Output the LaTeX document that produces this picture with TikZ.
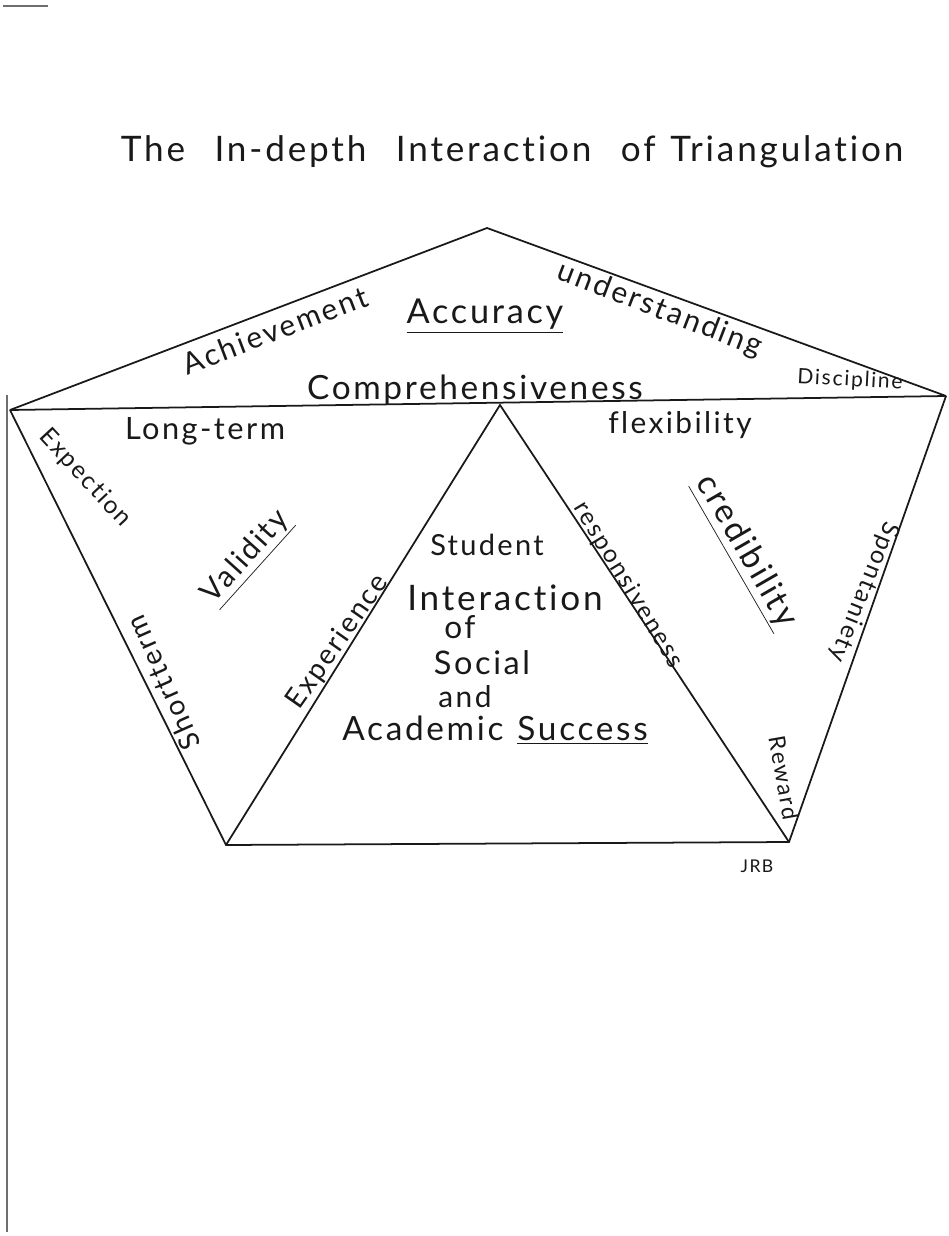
\documentclass[tikz,border=0pt]{standalone}
\usepackage{fontspec}
\setmainfont{Lato}[LetterSpace=8, WordSpace=1.25, Ligatures=NoCommon]
\usetikzlibrary{positioning, calc}
\definecolor{PenInk}{RGB}{25, 25, 25}
\definecolor{ScanGray}{RGB}{110, 110, 110}
\newcommand{\pen}[1]{\fontsize{#1}{1.2\dimexpr#1pt\relax}\selectfont}

\begin{document}
\begin{tikzpicture}[
  x=0.02cm, y=-0.02cm,
  every node/.style={text=PenInk},
  edge/.style={draw=PenInk, line width=1pt},
  word/.style={inner sep=1pt, font=\pen{17}},
  small/.style={inner sep=1pt, font=\pen{13}},
  core/.style={inner sep=1pt, font=\pen{19}}
]
  \useasboundingbox (0,0) rectangle (948,1236);

  %% scan edge
  \draw[ScanGray, line width=0.8pt] (7,395) -- (7,1232);
  \draw[ScanGray, line width=0.8pt] (3,6) -- (48,6);

  %% Title
  \node[font=\pen{20}] (title) at (512,152)
    {The\ \ In-depth\ \ Interaction\ \ of\ Triangulation};

  %% Corners of the pentagon and the triangle
  \coordinate (top)   at (487,228);
  \coordinate (left)  at (10,410);
  \coordinate (right) at (946,396);
  \coordinate (apex)  at (500,405);
  \coordinate (bl)    at (226,845);
  \coordinate (br)    at (789,842);

  %% Outline
  \draw[edge] (left) -- (top) -- (right);
  \draw[edge] (left) -- (right);
  \draw[edge] (left) -- (bl) -- (br) -- (right);
  \draw[edge] (bl) -- (apex) -- (br);

  %% Top part
  \node[word, rotate=20.9]  (achieve)  at (275,330) {Achievement};
  \node[core, font=\pen{19.5}] (accuracy) at (485,316) {\underline{Accuracy}};
  \node[word, rotate=-21]   (underst)  at (660,310) {understanding};
  \node[small, font=\pen{12}, rotate=-3] (discip) at (850,380) {Discipline};
  \node[core]               (compre)   at (475,390) {Comprehensiveness};

  %% Left part
  \node[word, font=\pen{17.5}] (longterm) at (205,431) {Long-term};
  \node[small, font=\pen{14}, rotate=-47] (expect) at (85,478) {Expection};
  \node[word, rotate=48]    (validity) at (247,558) {\underline{Validity}};
  \node[small, font=\pen{16}, rotate=114] (short) at (163,683) {Shortterm};
  \node[word, font=\pen{16}, rotate=55] (exper) at (338,642) {Experience};

  %% Right part
  \node[word]               (flex)     at (680,425) {flexibility};
  \node[small, font=\pen{14}, rotate=-58.8] (respons) at (628,585) {responsiveness};
  \node[word, font=\pen{19}, rotate=-60] (cred) at (745,552) {\underline{credibility}};
  \node[small, font=\pen{14}, rotate=-112] (spont) at (864,592) {Spontaniety};
  \node[small, rotate=-80]  (reward)   at (784,778) {Reward};
  \node[font=\pen{10}]      (sign)     at (757,866) {JRB};

  %% Centre of the triangle
  \node[word, font=\pen{16.5}] (student) at (487,545) {Student};
  \node[word, font=\pen{20}] (inter)   at (505,598) {Interaction};
  \node[word, font=\pen{18}] (of)      at (460,627) {of};
  \node[word, font=\pen{18.5}] (social) at (482,663) {Social};
  \node[word, font=\pen{17}] (and)     at (465,697) {and};
  \node[core]                (acad)    at (495,730) {Academic\ \underline{Success}};
\end{tikzpicture}
\end{document}
